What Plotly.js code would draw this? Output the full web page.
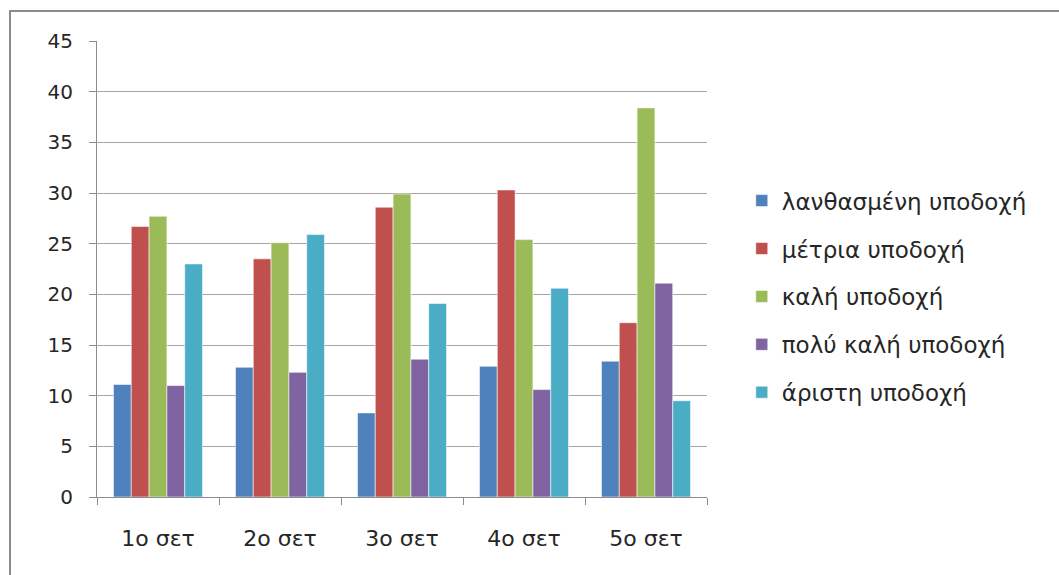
<!DOCTYPE html>
<html>
<head>
<meta charset="utf-8">
<script src="https://cdn.plot.ly/plotly-3.0.1.min.js"></script>
<style>
  html, body { margin: 0; padding: 0; background: #fff; }
  #wrap { position: relative; width: 1059px; height: 575px; overflow: hidden; }
  #chart { position: absolute; left: 0; top: 0; width: 1059px; height: 575px; }
  #frame { position: absolute; left: 9px; top: 10px; width: 1100px; height: 700px;
           border-top: 2px solid #8c8c8c; border-left: 2px solid #8c8c8c; pointer-events: none; }
</style>
</head>
<body>
<div id="wrap">
  <div id="chart"></div>
  <div id="frame"></div>
</div>
<script>
const categories = ["1ο σετ", "2ο σετ", "3ο σετ", "4ο σετ", "5ο σετ"];
const seriesNames = ["λανθασμένη υποδοχή", "μέτρια υποδοχή", "καλή υποδοχή", "πολύ καλή υποδοχή", "άριστη υποδοχή"];
const lanthasmeni = [11.1, 12.8, 8.3, 12.9, 13.4];
const metria      = [26.7, 23.5, 28.6, 30.3, 17.2];
const kali        = [27.7, 25.1, 29.9, 25.4, 38.4];
const polyKali    = [11.0, 12.3, 13.6, 10.6, 21.1];
const aristi      = [23.0, 25.9, 19.1, 20.6, 9.5];
const yTicks = [0, 5, 10, 15, 20, 25, 30, 35, 40, 45];

const seriesValues = [lanthasmeni, metria, kali, polyKali, aristi];
const colors = ["#4f81bd", "#c0504d", "#9bbb59", "#8064a2", "#4bacc6"];

const font = "DejaVu Sans, Verdana, sans-serif";

const data = seriesValues.map((vals, i) => ({
  type: "bar",
  x: categories,
  y: vals,
  name: seriesNames[i],
  legendgroup: "g" + i,
  marker: { color: colors[i], line: { color: "rgba(255,255,255,0.55)", width: 1 } },
  hoverinfo: "x+y+name"
}));

const layout = {
  width: 1059,
  height: 575,
  margin: { l: 97, r: 352, t: 41, b: 78 },
  paper_bgcolor: "#ffffff",
  plot_bgcolor: "#ffffff",
  barmode: "group",
  bargap: 0.27,
  bargroupgap: 0,
  showlegend: true,
  font: { family: font, size: 20, color: "#262626" },
  legend: {
    x: 1.057, xanchor: "left",
    y: 0.697, yanchor: "top",
    traceorder: "grouped",
    tracegroupgap: 15,
    font: { family: font, size: 23, color: "#262626" },
    itemwidth: 30,
    bgcolor: "rgba(0,0,0,0)"
  },
  xaxis: {
    type: "category",
    showgrid: false,
    showline: true,
    linecolor: "#8c8c8c",
    linewidth: 1,
    ticks: "outside",
    tickson: "boundaries",
    ticklen: 7,
    tickcolor: "#8c8c8c",
    tickfont: { family: font, size: 22, color: "#262626" },
    ticklabelstandoff: 22,
    zeroline: false
  },
  yaxis: {
    range: [0, 45],
    tickvals: yTicks,
    ticktext: yTicks.map(String),
    showgrid: true,
    gridcolor: "#a6a6a6",
    gridwidth: 1,
    showline: true,
    linecolor: "#8c8c8c",
    ticks: "outside",
    ticklen: 7,
    tickcolor: "#8c8c8c",
    tickfont: { family: font, size: 20, color: "#262626" },
    ticklabelstandoff: 12,
    zeroline: false
  }
};

Plotly.newPlot("chart", data, layout, { displayModeBar: false, staticPlot: true });
</script>
</body>
</html>
